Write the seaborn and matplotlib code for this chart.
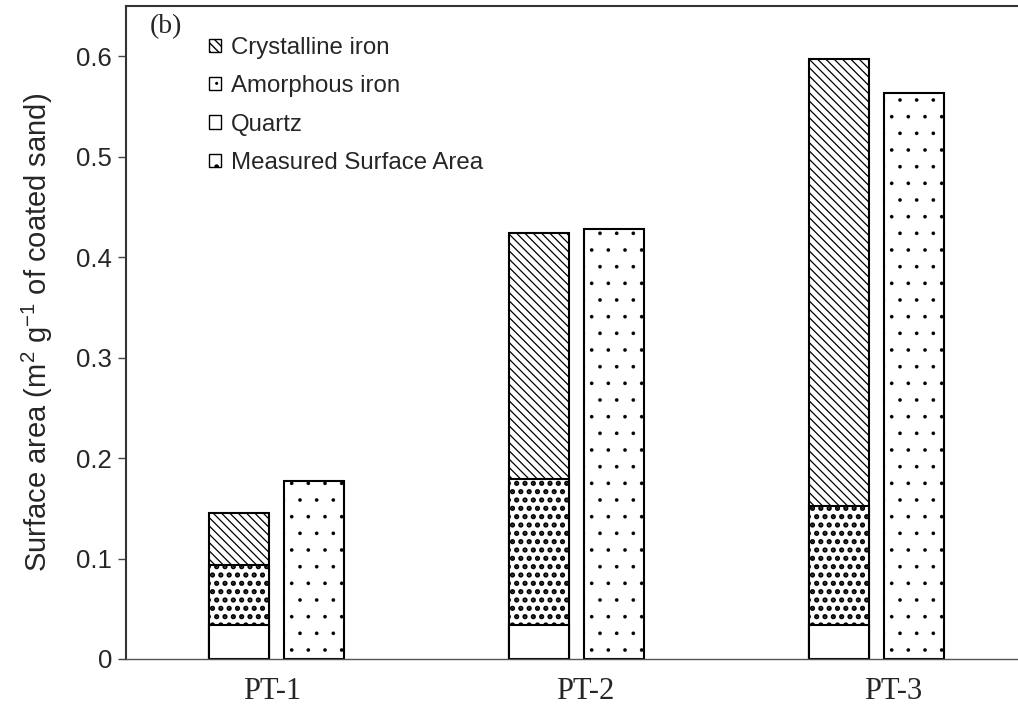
import numpy as np
import pandas as pd
import matplotlib
matplotlib.use("Agg")
import matplotlib.pyplot as plt
import matplotlib.transforms as mtrans
import seaborn as sns
from matplotlib.patches import Patch

# ---- data ----
samples = ["PT-1", "PT-2", "PT-3"]
quartz = [0.034, 0.034, 0.034]
amorphous = [0.060, 0.145, 0.118]
crystalline = [0.051, 0.245, 0.445]
measured = [0.177, 0.428, 0.563]
kinds = ["Estimated", "Measured"]
yticks = [0, 0.1, 0.2, 0.3, 0.4, 0.5, 0.6]
ytick_labels = ["0", "0.1", "0.2", "0.3", "0.4", "0.5", "0.6"]
legend_labels = ["Crystalline iron", "Amorphous iron", "Quartz", "Measured Surface Area"]
panel_label = "(b)"
ylabel = "Surface area (m$^{2}$ g$^{-1}$ of coated sand)"

sns.set_style("white")
plt.rcParams["font.family"] = ["Liberation Sans", "DejaVu Sans"]
plt.rcParams["mathtext.fontset"] = "custom"
plt.rcParams["mathtext.rm"] = "Liberation Sans"
plt.rcParams["mathtext.it"] = "Liberation Sans"
plt.rcParams["hatch.linewidth"] = 1.0

fig = plt.figure(figsize=(10.18, 7.19), dpi=100)
ax = fig.add_axes([126 / 1018, 60 / 719, 1 - 126 / 1018, (659 - 6) / 719])

q = np.array(quartz)
a = np.array(amorphous)
c = np.array(crystalline)
m = np.array(measured)

HATCH_CRYST = "\\\\\\\\"
HATCH_AMOR = ".."
HATCH_MEAS = "."

def layer(est_vals, meas_vals, est_hatch, meas_hatch, hlw_est=1.0, hlw_meas=0.2):
    rows = []
    for s, v in zip(samples, est_vals):
        rows.append({"sample": s, "kind": "Estimated", "value": v})
    if meas_vals is not None:
        for s, v in zip(samples, meas_vals):
            rows.append({"sample": s, "kind": "Measured", "value": v})
    df = pd.DataFrame(rows)
    n0 = len(ax.patches)
    with plt.rc_context({"hatch.linewidth": hlw_est}):
        sns.barplot(data=df, x="sample", y="value", hue="kind", hue_order=kinds,
                    order=samples, palette={"Estimated": "white", "Measured": "white"},
                    saturation=1, edgecolor="black", linewidth=1.5, width=0.5, gap=0.2,
                    dodge=True, errorbar=None, legend=False, ax=ax)
    for p in ax.patches[n0:]:
        xc = p.get_x() + p.get_width() / 2
        if xc < round(xc):
            if est_hatch:
                p.set_hatch(est_hatch)
                if hasattr(p, "set_hatch_linewidth"):
                    p.set_hatch_linewidth(hlw_est)
        else:
            if meas_hatch:
                p.set_hatch(meas_hatch)
                if hasattr(p, "set_hatch_linewidth"):
                    p.set_hatch_linewidth(hlw_meas)

layer(q + a + c, m, HATCH_CRYST, HATCH_MEAS, 0.9, 0.2)
layer(q + a, None, HATCH_AMOR, None, 2.5)
layer(q, None, None, None)

ax.set_xlim(-0.5017, 2.47)
ax.set_ylim(0, 0.65)
ax.set_yticks(yticks)
ax.set_yticklabels(ytick_labels)
ax.tick_params(axis="y", direction="out", length=6, width=1, color="#444444",
               labelsize=18.5, pad=4, left=True)
ax.tick_params(axis="x", length=0, pad=13)
x_shift_px = [-4, 8, 16]
for lab, dx in zip(ax.get_xticklabels(), x_shift_px):
    lab.set_fontfamily(["Liberation Serif", "DejaVu Serif"])
    lab.set_fontsize(22)
    lab.set_transform(lab.get_transform() +
                      mtrans.ScaledTranslation(dx / 100, 0, fig.dpi_scale_trans))
ax.set_xlabel("")
ax.set_ylabel(ylabel, fontsize=21, labelpad=15)

ax.spines["right"].set_visible(False)
for sp in ["top", "left"]:
    ax.spines[sp].set_color("#333333")
    ax.spines[sp].set_linewidth(1.5)
ax.spines["bottom"].set_color("#555555")
ax.spines["bottom"].set_linewidth(1.0)

handles = [
    Patch(facecolor="white", edgecolor="black", hatch=HATCH_CRYST, linewidth=1),
    Patch(facecolor="white", edgecolor="black", hatch=HATCH_AMOR, linewidth=1),
    Patch(facecolor="white", edgecolor="black", linewidth=1),
    Patch(facecolor="white", edgecolor="black", hatch=HATCH_MEAS, linewidth=1),
]
leg = fig.legend(handles, legend_labels, loc="upper left",
                 bbox_to_anchor=(209 / 1018, 1 - 37 / 719),
                 frameon=False, fontsize=17.3, borderpad=0, borderaxespad=0,
                 handlelength=0.48, handleheight=0.48, handletextpad=0.45,
                 labelspacing=0.68)

fig.text(150 / 1018, 1 - 27 / 719, panel_label, fontsize=20, va="center", ha="left",
         family=["Liberation Serif", "DejaVu Serif"])

fig.savefig("out.png", dpi=100)
